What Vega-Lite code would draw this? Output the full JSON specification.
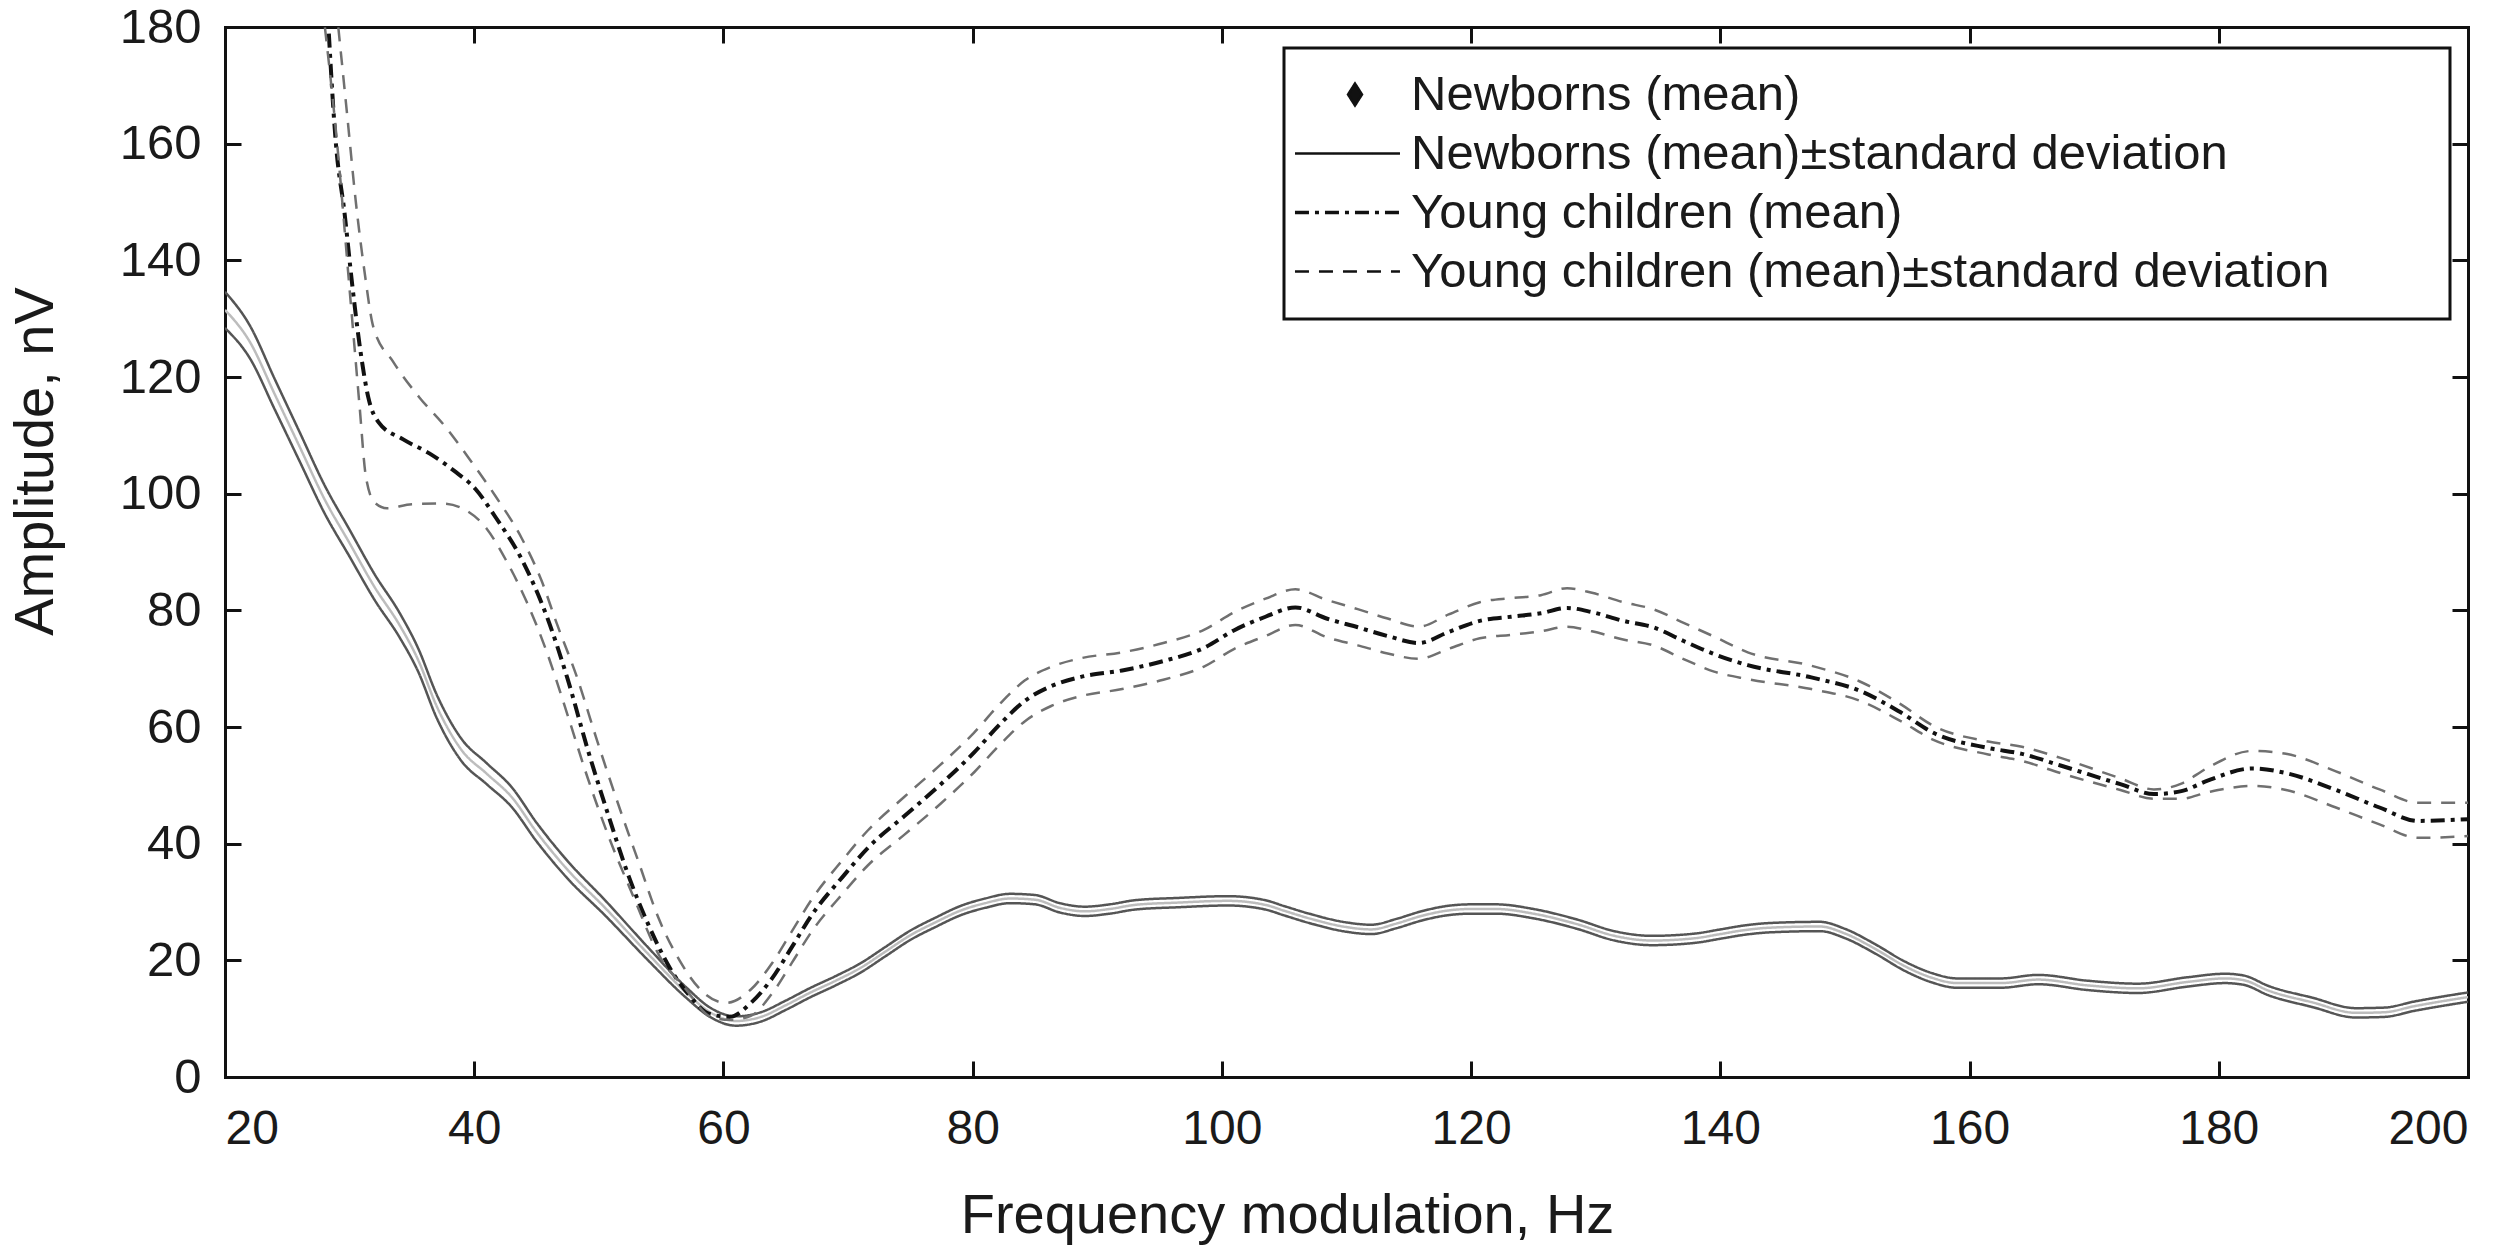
{
  "$schema": "https://vega.github.io/schema/vega-lite/v6.json",
  "width": 2243,
  "height": 1050,
  "autosize": {"type": "none"},
  "padding": {"left": 225, "top": 27, "right": 48, "bottom": 182},
  "background": "white",
  "datasets": {
    "series": [
      {"l": "nm", "s": "Newborns (mean)"},
      {"l": "nu", "s": "Newborns (mean)±standard deviation"},
      {"l": "nl", "s": "Newborns (mean)±standard deviation"},
      {"l": "ym", "s": "Young children (mean)"},
      {"l": "yu", "s": "Young children (mean)±standard deviation"},
      {"l": "yl", "s": "Young children (mean)±standard deviation"}
    ],
    "curves": [
      {"l":"nm","f":20,"a":131.5},{"l":"nm","f":22,"a":126},{"l":"nm","f":24,"a":117},{"l":"nm","f":26,"a":108},{"l":"nm","f":28,"a":99},{"l":"nm","f":30,"a":91.5},{"l":"nm","f":32,"a":84},{"l":"nm","f":34,"a":77.5},{"l":"nm","f":35.5,"a":71.5},{"l":"nm","f":37,"a":63.5},{"l":"nm","f":39,"a":56},{"l":"nm","f":41,"a":52},{"l":"nm","f":43,"a":48},{"l":"nm","f":45,"a":42},{"l":"nm","f":47.5,"a":35.5},{"l":"nm","f":50.5,"a":29},{"l":"nm","f":54,"a":21},{"l":"nm","f":57,"a":14.5},{"l":"nm","f":59,"a":11},{"l":"nm","f":61,"a":9.6},{"l":"nm","f":63,"a":10.3},{"l":"nm","f":65,"a":12.3},{"l":"nm","f":67,"a":14.5},{"l":"nm","f":69,"a":16.5},{"l":"nm","f":71,"a":18.7},{"l":"nm","f":73,"a":21.5},{"l":"nm","f":75,"a":24.3},{"l":"nm","f":77,"a":26.5},{"l":"nm","f":79,"a":28.5},{"l":"nm","f":81,"a":29.8},{"l":"nm","f":83,"a":30.6},{"l":"nm","f":85,"a":30.4},{"l":"nm","f":87,"a":29},{"l":"nm","f":89,"a":28.4},{"l":"nm","f":91,"a":28.8},{"l":"nm","f":93,"a":29.5},{"l":"nm","f":96.5,"a":29.9},{"l":"nm","f":100.5,"a":30.2},{"l":"nm","f":103.5,"a":29.5},{"l":"nm","f":105,"a":28.5},{"l":"nm","f":107,"a":27.2},{"l":"nm","f":110,"a":25.7},{"l":"nm","f":112,"a":25.3},{"l":"nm","f":114,"a":26.3},{"l":"nm","f":116,"a":27.6},{"l":"nm","f":118,"a":28.5},{"l":"nm","f":120,"a":28.8},{"l":"nm","f":122,"a":28.8},{"l":"nm","f":125,"a":28},{"l":"nm","f":128.5,"a":26.2},{"l":"nm","f":131.5,"a":24.2},{"l":"nm","f":134.5,"a":23.4},{"l":"nm","f":138,"a":23.8},{"l":"nm","f":140,"a":24.5},{"l":"nm","f":142,"a":25.2},{"l":"nm","f":144,"a":25.6},{"l":"nm","f":148,"a":25.8},{"l":"nm","f":150,"a":24.6},{"l":"nm","f":152.4,"a":22},{"l":"nm","f":154.8,"a":19},{"l":"nm","f":157,"a":17},{"l":"nm","f":159,"a":16.1},{"l":"nm","f":162.5,"a":16.1},{"l":"nm","f":165.5,"a":16.7},{"l":"nm","f":169.5,"a":15.7},{"l":"nm","f":173.5,"a":15.2},{"l":"nm","f":177.5,"a":16.3},{"l":"nm","f":180.5,"a":16.9},{"l":"nm","f":182,"a":16.6},{"l":"nm","f":184,"a":14.8},{"l":"nm","f":187.5,"a":12.8},{"l":"nm","f":191,"a":11},{"l":"nm","f":193.3,"a":11.1},{"l":"nm","f":195.6,"a":12.1},{"l":"nm","f":200,"a":13.7},

      {"l":"nu","f":20,"a":134.6},{"l":"nu","f":22,"a":128.8},{"l":"nu","f":24,"a":119.6},{"l":"nu","f":26,"a":110.5},{"l":"nu","f":28,"a":101.4},{"l":"nu","f":30,"a":93.8},{"l":"nu","f":32,"a":86.2},{"l":"nu","f":34,"a":79.6},{"l":"nu","f":35.5,"a":73.5},{"l":"nu","f":37,"a":65.5},{"l":"nu","f":39,"a":57.9},{"l":"nu","f":41,"a":53.8},{"l":"nu","f":43,"a":49.7},{"l":"nu","f":45,"a":43.6},{"l":"nu","f":47.5,"a":37},{"l":"nu","f":50.5,"a":30.3},{"l":"nu","f":54,"a":22.1},{"l":"nu","f":57,"a":15.4},{"l":"nu","f":59,"a":11.8},{"l":"nu","f":61,"a":10.4},{"l":"nu","f":63,"a":11.1},{"l":"nu","f":65,"a":13.1},{"l":"nu","f":67,"a":15.3},{"l":"nu","f":69,"a":17.3},{"l":"nu","f":71,"a":19.5},{"l":"nu","f":73,"a":22.3},{"l":"nu","f":75,"a":25.1},{"l":"nu","f":77,"a":27.3},{"l":"nu","f":79,"a":29.3},{"l":"nu","f":81,"a":30.6},{"l":"nu","f":83,"a":31.4},{"l":"nu","f":85,"a":31.2},{"l":"nu","f":87,"a":29.8},{"l":"nu","f":89,"a":29.2},{"l":"nu","f":91,"a":29.6},{"l":"nu","f":93,"a":30.3},{"l":"nu","f":96.5,"a":30.7},{"l":"nu","f":100.5,"a":31},{"l":"nu","f":103.5,"a":30.3},{"l":"nu","f":105,"a":29.3},{"l":"nu","f":107,"a":28},{"l":"nu","f":110,"a":26.5},{"l":"nu","f":112,"a":26.1},{"l":"nu","f":114,"a":27.1},{"l":"nu","f":116,"a":28.4},{"l":"nu","f":118,"a":29.3},{"l":"nu","f":120,"a":29.6},{"l":"nu","f":122,"a":29.6},{"l":"nu","f":125,"a":28.8},{"l":"nu","f":128.5,"a":27},{"l":"nu","f":131.5,"a":25},{"l":"nu","f":134.5,"a":24.2},{"l":"nu","f":138,"a":24.6},{"l":"nu","f":140,"a":25.3},{"l":"nu","f":142,"a":26},{"l":"nu","f":144,"a":26.4},{"l":"nu","f":148,"a":26.6},{"l":"nu","f":150,"a":25.4},{"l":"nu","f":152.4,"a":22.8},{"l":"nu","f":154.8,"a":19.8},{"l":"nu","f":157,"a":17.8},{"l":"nu","f":159,"a":16.9},{"l":"nu","f":162.5,"a":16.9},{"l":"nu","f":165.5,"a":17.5},{"l":"nu","f":169.5,"a":16.5},{"l":"nu","f":173.5,"a":16},{"l":"nu","f":177.5,"a":17.1},{"l":"nu","f":180.5,"a":17.7},{"l":"nu","f":182,"a":17.4},{"l":"nu","f":184,"a":15.6},{"l":"nu","f":187.5,"a":13.6},{"l":"nu","f":191,"a":11.8},{"l":"nu","f":193.3,"a":11.9},{"l":"nu","f":195.6,"a":12.9},{"l":"nu","f":200,"a":14.5},

      {"l":"nl","f":20,"a":128.4},{"l":"nl","f":22,"a":123.2},{"l":"nl","f":24,"a":114.4},{"l":"nl","f":26,"a":105.5},{"l":"nl","f":28,"a":96.6},{"l":"nl","f":30,"a":89.2},{"l":"nl","f":32,"a":81.8},{"l":"nl","f":34,"a":75.4},{"l":"nl","f":35.5,"a":69.5},{"l":"nl","f":37,"a":61.5},{"l":"nl","f":39,"a":54.1},{"l":"nl","f":41,"a":50.2},{"l":"nl","f":43,"a":46.3},{"l":"nl","f":45,"a":40.4},{"l":"nl","f":47.5,"a":34},{"l":"nl","f":50.5,"a":27.7},{"l":"nl","f":54,"a":19.9},{"l":"nl","f":57,"a":13.6},{"l":"nl","f":59,"a":10.2},{"l":"nl","f":61,"a":8.8},{"l":"nl","f":63,"a":9.5},{"l":"nl","f":65,"a":11.5},{"l":"nl","f":67,"a":13.7},{"l":"nl","f":69,"a":15.7},{"l":"nl","f":71,"a":17.9},{"l":"nl","f":73,"a":20.7},{"l":"nl","f":75,"a":23.5},{"l":"nl","f":77,"a":25.7},{"l":"nl","f":79,"a":27.7},{"l":"nl","f":81,"a":29},{"l":"nl","f":83,"a":29.8},{"l":"nl","f":85,"a":29.6},{"l":"nl","f":87,"a":28.2},{"l":"nl","f":89,"a":27.6},{"l":"nl","f":91,"a":28},{"l":"nl","f":93,"a":28.7},{"l":"nl","f":96.5,"a":29.1},{"l":"nl","f":100.5,"a":29.4},{"l":"nl","f":103.5,"a":28.7},{"l":"nl","f":105,"a":27.7},{"l":"nl","f":107,"a":26.4},{"l":"nl","f":110,"a":24.9},{"l":"nl","f":112,"a":24.5},{"l":"nl","f":114,"a":25.5},{"l":"nl","f":116,"a":26.8},{"l":"nl","f":118,"a":27.7},{"l":"nl","f":120,"a":28},{"l":"nl","f":122,"a":28},{"l":"nl","f":125,"a":27.2},{"l":"nl","f":128.5,"a":25.4},{"l":"nl","f":131.5,"a":23.4},{"l":"nl","f":134.5,"a":22.6},{"l":"nl","f":138,"a":23},{"l":"nl","f":140,"a":23.7},{"l":"nl","f":142,"a":24.4},{"l":"nl","f":144,"a":24.8},{"l":"nl","f":148,"a":25},{"l":"nl","f":150,"a":23.8},{"l":"nl","f":152.4,"a":21.2},{"l":"nl","f":154.8,"a":18.2},{"l":"nl","f":157,"a":16.2},{"l":"nl","f":159,"a":15.3},{"l":"nl","f":162.5,"a":15.3},{"l":"nl","f":165.5,"a":15.9},{"l":"nl","f":169.5,"a":14.9},{"l":"nl","f":173.5,"a":14.4},{"l":"nl","f":177.5,"a":15.5},{"l":"nl","f":180.5,"a":16.1},{"l":"nl","f":182,"a":15.8},{"l":"nl","f":184,"a":14},{"l":"nl","f":187.5,"a":12},{"l":"nl","f":191,"a":10.2},{"l":"nl","f":193.3,"a":10.3},{"l":"nl","f":195.6,"a":11.3},{"l":"nl","f":200,"a":12.9},

      {"l":"ym","f":28.2,"a":184},{"l":"ym","f":28.9,"a":160},{"l":"ym","f":29.6,"a":148},{"l":"ym","f":30.2,"a":136},{"l":"ym","f":30.9,"a":124},{"l":"ym","f":31.5,"a":116.5},{"l":"ym","f":32.3,"a":112.3},{"l":"ym","f":34.3,"a":109.3},{"l":"ym","f":36.4,"a":106.9},{"l":"ym","f":38.4,"a":103.9},{"l":"ym","f":40.1,"a":100.8},{"l":"ym","f":41.7,"a":96},{"l":"ym","f":43.8,"a":88.8},{"l":"ym","f":45.8,"a":79.1},{"l":"ym","f":47.5,"a":68.2},{"l":"ym","f":49.1,"a":56.2},{"l":"ym","f":50.7,"a":45.3},{"l":"ym","f":52.4,"a":34.4},{"l":"ym","f":54,"a":26},{"l":"ym","f":55.7,"a":18.7},{"l":"ym","f":57.3,"a":13.9},{"l":"ym","f":58.9,"a":10.8},{"l":"ym","f":60.5,"a":10.3},{"l":"ym","f":62.2,"a":12.7},{"l":"ym","f":63.9,"a":16.9},{"l":"ym","f":65.5,"a":22.3},{"l":"ym","f":67.1,"a":27.8},{"l":"ym","f":69.6,"a":34.4},{"l":"ym","f":71.6,"a":39.3},{"l":"ym","f":74.5,"a":44.7},{"l":"ym","f":77.4,"a":50.1},{"l":"ym","f":80.1,"a":55.6},{"l":"ym","f":82.2,"a":60.5},{"l":"ym","f":84.2,"a":64.5},{"l":"ym","f":86.3,"a":67},{"l":"ym","f":88.7,"a":68.6},{"l":"ym","f":92,"a":69.7},{"l":"ym","f":95.3,"a":71.3},{"l":"ym","f":98.6,"a":73.6},{"l":"ym","f":101,"a":76.6},{"l":"ym","f":103.5,"a":78.9},{"l":"ym","f":105.9,"a":80.5},{"l":"ym","f":108.4,"a":78.6},{"l":"ym","f":110.9,"a":77.1},{"l":"ym","f":113.3,"a":75.6},{"l":"ym","f":115.8,"a":74.4},{"l":"ym","f":118.2,"a":76.3},{"l":"ym","f":120.7,"a":78.2},{"l":"ym","f":123.2,"a":78.9},{"l":"ym","f":125.6,"a":79.5},{"l":"ym","f":127.7,"a":80.4},{"l":"ym","f":129.7,"a":79.7},{"l":"ym","f":132.2,"a":78.2},{"l":"ym","f":134.6,"a":77.1},{"l":"ym","f":137.1,"a":74.7},{"l":"ym","f":139.5,"a":72.5},{"l":"ym","f":142.2,"a":70.6},{"l":"ym","f":147.3,"a":68.5},{"l":"ym","f":151.2,"a":66.2},{"l":"ym","f":154.4,"a":62.6},{"l":"ym","f":157.1,"a":59},{"l":"ym","f":161.5,"a":56.4},{"l":"ym","f":164.2,"a":55.4},{"l":"ym","f":167.3,"a":53.4},{"l":"ym","f":172.1,"a":50.2},{"l":"ym","f":174.8,"a":48.5},{"l":"ym","f":177,"a":49},{"l":"ym","f":179.1,"a":50.8},{"l":"ym","f":182.7,"a":52.9},{"l":"ym","f":185.4,"a":52.1},{"l":"ym","f":189.4,"a":49.2},{"l":"ym","f":192.9,"a":46.2},{"l":"ym","f":196,"a":43.9},{"l":"ym","f":200,"a":44.2},

      {"l":"yu","f":28.9,"a":184},{"l":"yu","f":29.8,"a":165},{"l":"yu","f":30.5,"a":150},{"l":"yu","f":31.2,"a":138},{"l":"yu","f":31.9,"a":128.6},{"l":"yu","f":33.5,"a":122.6},{"l":"yu","f":35.6,"a":116.5},{"l":"yu","f":37.6,"a":111.7},{"l":"yu","f":39.7,"a":105.7},{"l":"yu","f":41.7,"a":99.6},{"l":"yu","f":43.8,"a":92.4},{"l":"yu","f":45.4,"a":85.1},{"l":"yu","f":46.6,"a":77.9},{"l":"yu","f":48.3,"a":68.2},{"l":"yu","f":49.9,"a":57.4},{"l":"yu","f":51.6,"a":46.5},{"l":"yu","f":53.2,"a":36.8},{"l":"yu","f":54.8,"a":27.2},{"l":"yu","f":56.5,"a":19.9},{"l":"yu","f":58.1,"a":15.1},{"l":"yu","f":60.2,"a":12.7},{"l":"yu","f":62.2,"a":15},{"l":"yu","f":63.9,"a":19.5},{"l":"yu","f":65.5,"a":25},{"l":"yu","f":67.1,"a":30.5},{"l":"yu","f":69.6,"a":37.3},{"l":"yu","f":71.6,"a":42.3},{"l":"yu","f":74.5,"a":48},{"l":"yu","f":77.4,"a":53.5},{"l":"yu","f":80.1,"a":59},{"l":"yu","f":82.2,"a":64},{"l":"yu","f":84.2,"a":68},{"l":"yu","f":86.3,"a":70.3},{"l":"yu","f":88.7,"a":71.8},{"l":"yu","f":92,"a":72.8},{"l":"yu","f":95.3,"a":74.4},{"l":"yu","f":98.6,"a":76.7},{"l":"yu","f":101,"a":79.7},{"l":"yu","f":103.5,"a":82},{"l":"yu","f":105.9,"a":83.6},{"l":"yu","f":108.4,"a":81.8},{"l":"yu","f":110.9,"a":80.2},{"l":"yu","f":113.3,"a":78.6},{"l":"yu","f":115.8,"a":77.2},{"l":"yu","f":118.2,"a":79.3},{"l":"yu","f":120.7,"a":81.4},{"l":"yu","f":123.2,"a":82.1},{"l":"yu","f":125.6,"a":82.6},{"l":"yu","f":127.7,"a":83.8},{"l":"yu","f":129.7,"a":83},{"l":"yu","f":132.2,"a":81.4},{"l":"yu","f":134.6,"a":80.2},{"l":"yu","f":137.1,"a":77.8},{"l":"yu","f":139.5,"a":75.5},{"l":"yu","f":142.2,"a":72.8},{"l":"yu","f":147.3,"a":70.5},{"l":"yu","f":151.2,"a":67.8},{"l":"yu","f":154.4,"a":64},{"l":"yu","f":157.1,"a":60.2},{"l":"yu","f":161.5,"a":57.5},{"l":"yu","f":164.2,"a":56.6},{"l":"yu","f":167.3,"a":54.7},{"l":"yu","f":172.1,"a":51.2},{"l":"yu","f":174.8,"a":49.3},{"l":"yu","f":177,"a":50.3},{"l":"yu","f":179.1,"a":53},{"l":"yu","f":182.7,"a":55.9},{"l":"yu","f":185.4,"a":55.4},{"l":"yu","f":189.4,"a":52.4},{"l":"yu","f":192.9,"a":49.3},{"l":"yu","f":196,"a":47},{"l":"yu","f":200,"a":47},

      {"l":"yl","f":27.8,"a":184},{"l":"yl","f":29,"a":160},{"l":"yl","f":30,"a":135},{"l":"yl","f":30.8,"a":115},{"l":"yl","f":31.3,"a":103},{"l":"yl","f":32,"a":98.5},{"l":"yl","f":33,"a":97.5},{"l":"yl","f":35,"a":98.2},{"l":"yl","f":37.5,"a":98.3},{"l":"yl","f":39.3,"a":97.2},{"l":"yl","f":41,"a":94},{"l":"yl","f":42.5,"a":88.8},{"l":"yl","f":44.2,"a":81.5},{"l":"yl","f":45.8,"a":73},{"l":"yl","f":47.5,"a":62},{"l":"yl","f":49.1,"a":51.3},{"l":"yl","f":50.7,"a":41.7},{"l":"yl","f":52.8,"a":30.8},{"l":"yl","f":54.8,"a":21},{"l":"yl","f":57,"a":15},{"l":"yl","f":59,"a":10.3},{"l":"yl","f":60.5,"a":9.8},{"l":"yl","f":62.2,"a":10.5},{"l":"yl","f":63.9,"a":14.3},{"l":"yl","f":65.5,"a":19.6},{"l":"yl","f":67.1,"a":25},{"l":"yl","f":69.6,"a":31.5},{"l":"yl","f":71.6,"a":36.3},{"l":"yl","f":74.5,"a":41.5},{"l":"yl","f":77.4,"a":46.8},{"l":"yl","f":80.1,"a":52.2},{"l":"yl","f":82.2,"a":57},{"l":"yl","f":84.2,"a":61},{"l":"yl","f":86.3,"a":63.6},{"l":"yl","f":88.7,"a":65.3},{"l":"yl","f":92,"a":66.5},{"l":"yl","f":95.3,"a":68.1},{"l":"yl","f":98.6,"a":70.4},{"l":"yl","f":101,"a":73.4},{"l":"yl","f":103.5,"a":75.6},{"l":"yl","f":105.9,"a":77.5},{"l":"yl","f":108.4,"a":75.4},{"l":"yl","f":110.9,"a":74},{"l":"yl","f":113.3,"a":72.6},{"l":"yl","f":115.8,"a":71.7},{"l":"yl","f":118.2,"a":73.4},{"l":"yl","f":120.7,"a":75.2},{"l":"yl","f":123.2,"a":75.8},{"l":"yl","f":125.6,"a":76.4},{"l":"yl","f":127.7,"a":77.2},{"l":"yl","f":129.7,"a":76.4},{"l":"yl","f":132.2,"a":75},{"l":"yl","f":134.6,"a":74},{"l":"yl","f":137.1,"a":71.6},{"l":"yl","f":139.5,"a":69.5},{"l":"yl","f":142.2,"a":68.2},{"l":"yl","f":147.3,"a":66.5},{"l":"yl","f":151.2,"a":64.5},{"l":"yl","f":154.4,"a":61.1},{"l":"yl","f":157.1,"a":57.8},{"l":"yl","f":161.5,"a":55.3},{"l":"yl","f":164.2,"a":54.2},{"l":"yl","f":167.3,"a":52.1},{"l":"yl","f":172.1,"a":49.2},{"l":"yl","f":174.8,"a":47.7},{"l":"yl","f":177,"a":47.7},{"l":"yl","f":179.1,"a":48.8},{"l":"yl","f":182.7,"a":49.9},{"l":"yl","f":185.4,"a":49.2},{"l":"yl","f":189.4,"a":46.2},{"l":"yl","f":192.9,"a":43.3},{"l":"yl","f":196,"a":41},{"l":"yl","f":200,"a":41.3}
    ]
  },
  "data": {"name": "curves"},
  "transform": [
    {"lookup": "l", "from": {"data": {"name": "series"}, "key": "l", "fields": ["s"]}}
  ],
  "layer": [
    {
      "mark": {"type": "line", "clip": true, "interpolate": "monotone"},
      "encoding": {
        "x": {
          "field": "f", "type": "quantitative",
          "scale": {"domain": [20, 200], "nice": false, "zero": false},
          "axis": {
            "orient": "bottom",
            "values": [20, 40, 60, 80, 100, 120, 140, 160, 180, 200],
            "labelPadding": 68, "labelBaseline": "middle", "labelFontSize": 48,
            "title": "Frequency modulation, Hz",
            "titleX": 1062, "titleY": 138, "titleBaseline": "middle", "titleAlign": "center"
          }
        },
        "y": {
          "field": "a", "type": "quantitative",
          "scale": {"domain": [0, 180], "nice": false, "zero": false},
          "axis": {
            "orient": "left",
            "values": [0, 20, 40, 60, 80, 100, 120, 140, 160, 180],
            "labelPadding": 40, "labelBaseline": "middle", "labelFontSize": 49,
            "title": "Amplitude, nV",
            "titleX": -190, "titleY": 434, "titleAngle": -90, "titleBaseline": "middle", "titleAlign": "center"
          }
        },
        "detail": {"field": "l"},
        "color": {
          "condition": [
            {"test": "datum.l === 'nm'", "value": "#bdbdbd"},
            {"test": "datum.l === 'ym'", "value": "#111111"},
            {"test": "datum.l === 'yu' || datum.l === 'yl'", "value": "#707070"}
          ],
          "value": "#555555"
        },
        "strokeDash": {
          "field": "s", "type": "nominal",
          "scale": {
            "domain": ["Newborns (mean)", "Newborns (mean)±standard deviation", "Young children (mean)", "Young children (mean)±standard deviation"],
            "range": [[1, 0], [1, 0], [14, 6, 4, 6], [14, 10]]
          },
          "legend": {
            "title": null,
            "orient": "none",
            "legendX": 1059,
            "legendY": 21,
            "padding": 22,
            "strokeColor": "#111111",
            "fillColor": "white",
            "symbolSize": 1225,
            "symbolStrokeWidth": 2.5,
            "symbolStrokeColor": "#111111",
            "labelOffset": 56,
            "rowPadding": 9,
            "labelFont": "Liberation Sans",
            "labelFontSize": 49,
            "labelColor": "#1a1a1a",
            "labelLimit": 0,
            "encode": {
              "legend": {"update": {"strokeWidth": {"value": 3}}},
              "entries": {"update": {"width": {"value": 1122}, "noBound": {"value": false}}},
              "symbols": {
                "update": {
                  "shape": {"signal": "datum.value === 'Newborns (mean)' ? 'M1.4,-0.63L1.8,0L1.4,0.63L1.0,0Z' : 'M-2.03,0H3.97'"},
                  "fill": {"signal": "datum.value === 'Newborns (mean)' ? '#111111' : 'transparent'"},
                  "stroke": {"value": "#111111"},
                  "strokeWidth": {"signal": "datum.value === 'Young children (mean)' ? 3.5 : 2.5"},
                  "opacity": {"value": 1}
                }
              }
            }
          }
        },
        "strokeWidth": {"condition": {"test": "datum.l === 'ym'", "value": 4}, "value": 2.5}
      }
    },
    {
      "mark": {"type": "point", "opacity": 0},
      "encoding": {
        "x": {
          "field": "f", "type": "quantitative",
          "scale": {"domain": [20, 200], "nice": false, "zero": false},
          "axis": {"orient": "top", "labels": false, "title": null, "values": [40, 60, 80, 100, 120, 140, 160, 180]}
        },
        "y": {
          "field": "a", "type": "quantitative",
          "scale": {"domain": [0, 180], "nice": false, "zero": false},
          "axis": {"orient": "right", "labels": false, "title": null, "values": [20, 40, 60, 80, 100, 120, 140, 160]}
        }
      }
    }
  ],
  "resolve": {"scale": {"x": "independent", "y": "independent"}, "axis": {"x": "independent", "y": "independent"}},
  "config": {
    "view": {"stroke": null},
    "axis": {
      "grid": false,
      "domainColor": "#111111",
      "domainWidth": 3,
      "domainCap": "square",
      "tickColor": "#111111",
      "tickWidth": 3,
      "tickSize": -16,
      "labelFont": "Liberation Sans",
      "labelFontSize": 48,
      "labelColor": "#1a1a1a",
      "titleFont": "Liberation Sans",
      "titleFontSize": 56,
      "titleFontWeight": "normal",
      "titleColor": "#1a1a1a"
    }
  }
}
